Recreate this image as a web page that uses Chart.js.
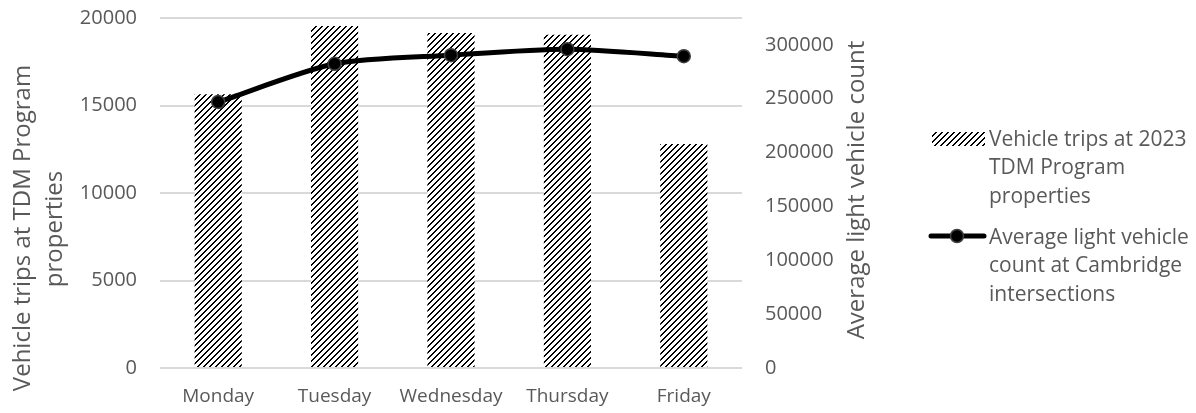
<!DOCTYPE html>
<html>
<head>
<meta charset="utf-8">
<script src="https://cdn.jsdelivr.net/npm/chart.js@4.4.1/dist/chart.umd.min.js"></script>
<style>
  html, body { margin: 0; padding: 0; background: #ffffff; }
  #wrap { width: 1196px; height: 413px; position: relative; }
</style>
</head>
<body>
<div id="wrap"><canvas id="chart" width="1196" height="413"></canvas></div>
<script>
// Weekday categories
const days = ['Monday', 'Tuesday', 'Wednesday', 'Thursday', 'Friday'];
// Vehicle trips at 2023 TDM Program properties (left axis)
const tdmTrips = [15650, 19550, 19150, 19050, 12800];
// Average light vehicle count at Cambridge intersections (right axis)
const lightVehicleCount = [247000, 282500, 290500, 296000, 289500];
// Axis tick labels
const leftTicks = [0, 5000, 10000, 15000, 20000];
const rightTicks = [0, 50000, 100000, 150000, 200000, 250000, 300000];

const barLabel = ['Vehicle trips at 2023', 'TDM Program', 'properties'];
const lineLabel = ['Average light vehicle', 'count at Cambridge', 'intersections'];
const leftTitle = ['Vehicle trips at TDM Program', 'properties'];
const rightTitle = 'Average light vehicle count';

const FONT = "'Open Sans', 'DejaVu Sans', sans-serif";
const TEXT = '#595959';

// Upward diagonal hatch fill
function makeHatch() {
  const t = document.createElement('canvas');
  t.width = 6; t.height = 6;
  const c = t.getContext('2d');
  c.fillStyle = '#ffffff';
  c.fillRect(0, 0, 6, 6);
  c.fillStyle = '#000000';
  for (let y = 0; y < 6; y++) {
    const x0 = (5 - y + 6) % 6;
    c.fillRect(x0, y, 1, 1);
    c.fillRect((x0 + 1) % 6, y, 1, 1);
  }
  return c.createPattern(t, 'repeat');
}

const ctx = document.getElementById('chart').getContext('2d');
const hatch = makeHatch();

const titlesAndLegend = {
  id: 'titlesAndLegend',
  afterDraw(chart) {
    const g = chart.ctx;
    g.save();
    g.fillStyle = TEXT;
    g.font = '24px ' + FONT;
    g.textAlign = 'center';
    g.textBaseline = 'middle';
    // left axis title, two lines
    g.save();
    g.translate(23, 228);
    g.rotate(-Math.PI / 2);
    g.fillText(leftTitle[0], 0, 0);
    g.restore();
    g.save();
    g.translate(55, 229);
    g.rotate(-Math.PI / 2);
    g.fillText(leftTitle[1], 0, 0);
    g.restore();
    // right axis title
    g.save();
    g.translate(857, 190);
    g.rotate(-Math.PI / 2);
    g.fillText(rightTitle, 0, 0);
    g.restore();

    // legend
    g.font = '21px ' + FONT;
    g.textAlign = 'left';
    const tx = 989;
    const lh = 28.5;
    g.fillStyle = hatch;
    g.fillRect(932, 132, 53, 14);
    g.fillStyle = TEXT;
    barLabel.forEach((s, i) => g.fillText(s, tx, 140 + i * lh));

    g.strokeStyle = '#000000';
    g.lineWidth = 5;
    g.lineCap = 'round';
    g.beginPath();
    g.moveTo(931, 236);
    g.lineTo(984, 236);
    g.stroke();
    g.beginPath();
    g.arc(957, 236, 6.5, 0, Math.PI * 2);
    g.fillStyle = '#000000';
    g.fill();
    g.lineWidth = 1.5;
    g.strokeStyle = '#404040';
    g.stroke();
    g.fillStyle = TEXT;
    lineLabel.forEach((s, i) => g.fillText(s, tx, 238 + i * lh));
    g.restore();
  }
};

const plain = v => String(v);
function fitY(width) {
  return s => { s.width = width; s.paddingTop = 0; s.paddingBottom = 0; };
}

new Chart(ctx, {
  data: {
    labels: days,
    datasets: [
      {
        type: 'line',
        label: lineLabel.join(' '),
        data: lightVehicleCount,
        yAxisID: 'yRight',
        borderColor: '#000000',
        borderWidth: 5,
        tension: 0.25,
        pointRadius: 6.5,
        pointBackgroundColor: '#000000',
        pointBorderColor: '#404040',
        pointBorderWidth: 1.5,
        order: 0
      },
      {
        type: 'bar',
        label: barLabel.join(' '),
        data: tdmTrips,
        yAxisID: 'yLeft',
        backgroundColor: hatch,
        borderWidth: 0,
        categoryPercentage: 0.405,
        barPercentage: 1,
        order: 1
      }
    ]
  },
  options: {
    responsive: false,
    animation: false,
    layout: { padding: { top: 18, right: 316, bottom: 0, left: 0 } },
    plugins: { legend: { display: false }, tooltip: { enabled: false } },
    scales: {
      x: {
        grid: { display: false, drawTicks: false },
        border: { display: false },
        ticks: { color: TEXT, font: { family: FONT, size: 19 }, padding: 17, maxRotation: 0 },
        afterFit(s) { s.height = 45; s.paddingLeft = 0; s.paddingRight = 0; }
      },
      yLeft: {
        position: 'left',
        min: 0, max: 20000,
        afterBuildTicks(s) { s.ticks = leftTicks.map(v => ({ value: v })); },
        grid: { color: '#d9d9d9', lineWidth: 2, drawTicks: false },
        border: { display: false },
        ticks: { color: TEXT, font: { family: FONT, size: 20 }, padding: 23, callback: plain },
        afterFit: fitY(160)
      },
      yRight: {
        position: 'right',
        min: 0, max: 325000,
        afterBuildTicks(s) { s.ticks = rightTicks.map(v => ({ value: v })); },
        grid: { display: false, drawTicks: false },
        border: { display: false },
        ticks: { color: TEXT, font: { family: FONT, size: 20 }, padding: 23, callback: plain },
        afterFit: fitY(138)
      }
    }
  },
  plugins: [titlesAndLegend]
});
</script>
</body>
</html>
